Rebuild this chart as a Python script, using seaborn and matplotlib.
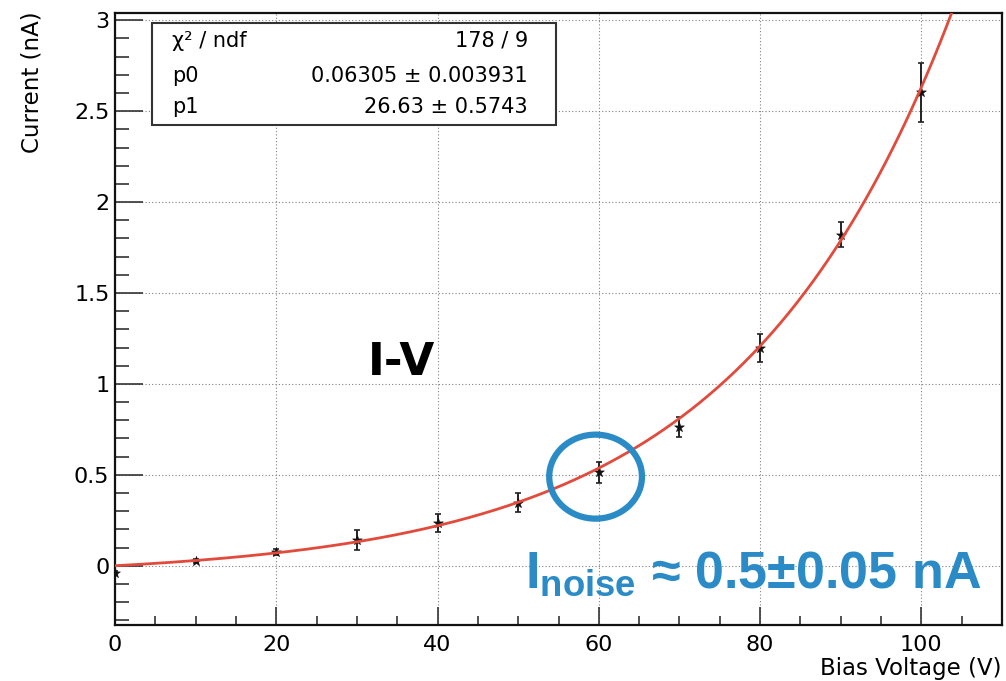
import numpy as np
import pandas as pd
import matplotlib
matplotlib.use("Agg")
import matplotlib.pyplot as plt
from matplotlib.patches import Ellipse, Rectangle
from matplotlib.ticker import MultipleLocator, FormatStrFormatter
import seaborn as sns

# Measured I-V points
bias_voltage = [0, 10, 20, 30, 40, 50, 60, 70, 80, 90, 100]
current_nA = [-0.040, 0.026, 0.075, 0.141, 0.233, 0.347, 0.514, 0.765, 1.198, 1.820, 2.603]
current_err = [0.010, 0.012, 0.015, 0.053, 0.050, 0.052, 0.057, 0.055, 0.075, 0.068, 0.163]

# Fit result  I = p0 * (exp(V / p1) - 1)
p0, p0_err = 0.06305, 0.003931
p1, p1_err = 26.63, 0.5743
chi2, ndf = 178, 9

sns.set_theme(style="white")
plt.rcParams["font.family"] = ["DejaVu Sans"]
plt.rcParams["mathtext.fontset"] = "custom"
plt.rcParams["mathtext.bf"] = "Liberation Sans:bold"
plt.rcParams["mathtext.rm"] = "Liberation Sans:bold"

df = pd.DataFrame({"V": bias_voltage, "I": current_nA, "err": current_err})
v_fit = np.linspace(0, 110, 400)
fit = pd.DataFrame({"V": v_fit, "I": p0 * (np.exp(v_fit / p1) - 1)})

fig = plt.figure(figsize=(10.06, 6.81), dpi=100)
ax = fig.add_axes([115 / 1006, 1 - 625 / 681, 887 / 1006, 612 / 681])

ax.set_xlim(0, 110)
ax.set_ylim(-0.326, 3.04)

# grid
ax.grid(True, which="major", color="#808080", linestyle=(0, (1, 2)), linewidth=0.8)

ax.errorbar(df["V"], df["I"], yerr=df["err"], fmt="none", ecolor="#222222",
            elinewidth=1.4, capsize=2.5, capthick=1.2, zorder=3)
sns.scatterplot(data=df, x="V", y="I", marker="*", s=55, color="#111111",
                edgecolor="#111111", linewidth=0.4, ax=ax, zorder=4)
sns.lineplot(data=fit, x="V", y="I", color="#e24a3b", linewidth=2.0, ax=ax, zorder=5)

# axes styling
for side in ["left", "right", "top", "bottom"]:
    ax.spines[side].set_visible(True)
    ax.spines[side].set_color("#111111")
    ax.spines[side].set_linewidth(1.6)

ax.xaxis.set_major_locator(MultipleLocator(20))
ax.xaxis.set_minor_locator(MultipleLocator(5))
ax.yaxis.set_major_locator(MultipleLocator(0.5))
ax.yaxis.set_minor_locator(MultipleLocator(0.1))
ax.yaxis.set_major_formatter(FormatStrFormatter("%g"))
ax.xaxis.set_major_formatter(FormatStrFormatter("%g"))

ax.tick_params(axis="x", which="major", direction="in", length=13, width=1.2,
               color="#333333", labelsize=16, labelcolor="black", pad=7,
               bottom=True, top=False)
ax.tick_params(axis="x", which="minor", direction="in", length=6.5, width=1.2,
               color="#333333", bottom=True, top=False)
ax.tick_params(axis="y", which="major", direction="in", length=20, width=1.2,
               color="#333333", labelsize=16, labelcolor="black", pad=4,
               left=True, right=False)
ax.tick_params(axis="y", which="minor", direction="in", length=10, width=1.2,
               color="#333333", left=True, right=False)

ax.set_xlabel("Bias Voltage (V)", fontsize=16.5, loc="right", color="black")
ax.set_ylabel("Current (nA)", fontsize=16.5, loc="top", color="black")
ax.xaxis.set_label_coords(1.0, -0.052)
ax.yaxis.set_label_coords(-0.081, 1.003)

# fit statistics box
box = Rectangle((0.0417, 0.817), 0.4553, 0.1667, transform=ax.transAxes,
                facecolor="white", edgecolor="#333333", linewidth=1.5, zorder=6)
ax.add_patch(box)
rows = [("χ² / ndf", f"{chi2} / {ndf}"),
        ("p0", f"{p0:.5f} ± {p0_err:g}"),
        ("p1", f"{p1:.2f} ± {p1_err:g}")]
for (name, val), yb in zip(rows, [0.945, 0.888, 0.8366]):
    ax.text(0.0643, yb, name, transform=ax.transAxes, fontsize=15,
            ha="left", va="baseline", color="black", zorder=7)
    ax.text(0.4656, yb, val, transform=ax.transAxes, fontsize=15,
            ha="right", va="baseline", color="black", zorder=7)

# annotations
ax.text(31.35, 1.05, "I-V", fontsize=32.5, fontweight="bold",
        family="DejaVu Sans", color="black", ha="left", va="baseline", zorder=7)

blue = "#2a8bc6"
ax.add_patch(Ellipse((59.6, 0.49), width=11.5, height=0.462, fill=False,
                     edgecolor=blue, linewidth=4.5, zorder=6))
ax.text(50.8, -0.123, r"$\mathbf{I}_{\mathbf{noise}}$ ≈ 0.5±0.05 nA", fontsize=37.5,
        fontweight="bold", family="Liberation Sans", color=blue,
        ha="left", va="baseline", zorder=7)

fig.savefig("out.png", dpi=100)
